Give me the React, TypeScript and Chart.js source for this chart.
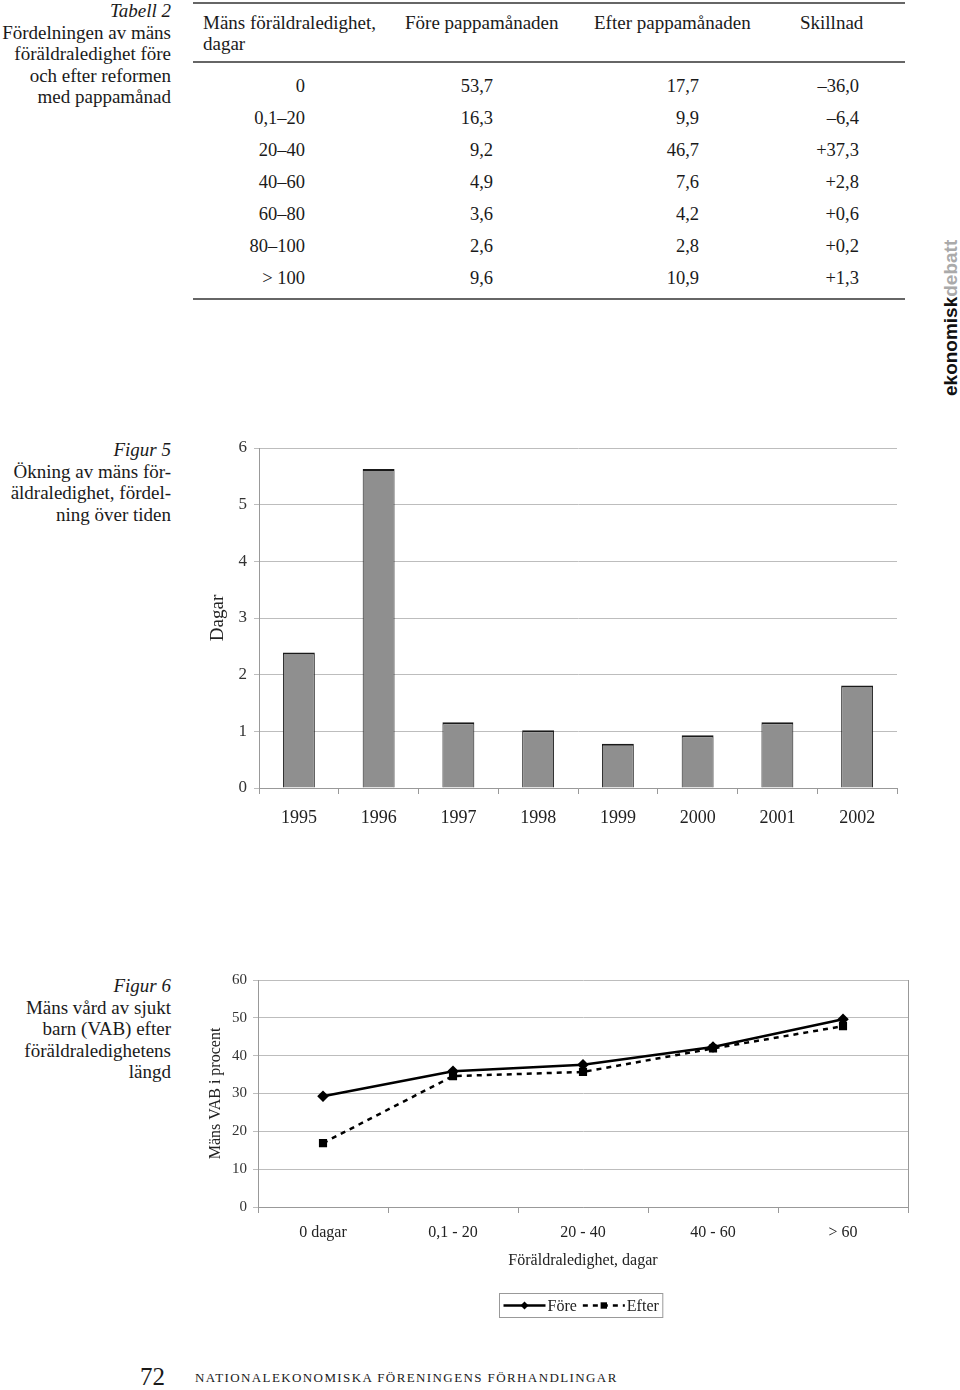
import React, { useEffect, useRef } from "react";
import { Chart, registerables } from "chart.js";

Chart.register(...registerables);

const SERIF = "'Liberation Serif', 'Times New Roman', serif";
const SANS = "'Liberation Sans', Arial, sans-serif";

// ---- Tabell 2 ----
const tableCaption = ["Fördelningen av mäns", "föräldraledighet före", "och efter reformen", "med pappamånad"];
const tableHeaders = ["Mäns föräldraledighet,", "Före pappamånaden", "Efter pappamånaden", "Skillnad"];
const leaveGroups = ["0", "0,1–20", "20–40", "40–60", "60–80", "80–100", "> 100"];
const beforeShares = ["53,7", "16,3", "9,2", "4,9", "3,6", "2,6", "9,6"];
const afterShares = ["17,7", "9,9", "46,7", "7,6", "4,2", "2,8", "10,9"];
const differences = ["–36,0", "–6,4", "+37,3", "+2,8", "+0,6", "+0,2", "+1,3"];

// ---- Figur 5 ----
const fig5Caption = ["Ökning av mäns för-", "äldraledighet, fördel-", "ning över tiden"];
const years = ["1995", "1996", "1997", "1998", "1999", "2000", "2001", "2002"];
const leaveDays = [2.39, 5.63, 1.16, 1.02, 0.78, 0.93, 1.16, 1.81];
const dayTicks = [0, 1, 2, 3, 4, 5, 6];

// ---- Figur 6 ----
const fig6Caption = ["Mäns vård av sjukt", "barn (VAB) efter", "föräldraledighetens", "längd"];
const vabGroups = ["0 dagar", "0,1 - 20", "20 - 40", "40 - 60", "> 60"];
const vabBefore = [29.3, 35.9, 37.6, 42.3, 49.6];
const vabAfter = [16.9, 34.6, 35.7, 41.9, 47.8];
const vabTicks = [0, 10, 20, 30, 40, 50, 60];

const abs = (o: React.CSSProperties): React.CSSProperties => ({ position: "absolute", ...o });

function BarChart() {
  const ref = useRef<HTMLCanvasElement>(null);
  useEffect(() => {
    const chart = new Chart(ref.current!, {
      type: "bar",
      data: {
        labels: years,
        datasets: [
          {
            label: "Dagar",
            data: leaveDays,
            backgroundColor: "#8f8f8f",
            borderColor: "#1a1a1a",
            borderWidth: { top: 2, left: 1, right: 1, bottom: 0 },
            borderSkipped: "start",
            barPercentage: 0.4,
            categoryPercentage: 1,
          },
        ],
      },
      options: {
        animation: false,
        responsive: false,
        maintainAspectRatio: false,
        layout: { padding: { top: 18, right: 13, bottom: 0, left: 0 } },
        plugins: { legend: { display: false }, tooltip: { enabled: false } },
        scales: {
          x: {
            grid: { display: true, drawOnChartArea: false, tickLength: 6, color: "#999", offset: true },
            border: { color: "#999" },
            ticks: { font: { family: SERIF, size: 18 }, color: "#222", padding: 13 },
            afterFit: (s: any) => { s.height = 52; },
          },
          y: {
            min: 0,
            max: 6,
            afterBuildTicks: (s: any) => { s.ticks = dayTicks.map((v) => ({ value: v })); },
            grid: { color: "#bdbdbd", tickLength: 5 },
            border: { color: "#999" },
            ticks: { font: { family: SERIF, size: 17 }, color: "#333", padding: 7 },
            title: { display: true, text: "Dagar", font: { family: SERIF, size: 19 }, color: "#222", padding: { top: 7, bottom: 0 } },
            afterFit: (s: any) => { s.width = 59; },
          },
        },
      },
    });
    return () => chart.destroy();
  }, []);
  return <canvas ref={ref} width={710} height={410} style={{ width: 710, height: 410, display: "block" }} />;
}

const vabExtras = {
  id: "vabExtras",
  afterDraw(chart: any) {
    const { ctx, chartArea } = chart;
    ctx.save();
    ctx.strokeStyle = "#999";
    ctx.lineWidth = 1;
    ctx.beginPath();
    ctx.moveTo(Math.round(chartArea.right) + 0.5, chartArea.top);
    ctx.lineTo(Math.round(chartArea.right) + 0.5, chartArea.bottom + 5);
    ctx.stroke();

    // legend
    ctx.font = `16px ${SERIF}`;
    const ds = chart.data.datasets;
    const pad = 4, sample = 42, gap = 2, between = 6;
    const widths = ds.map((d: any) => ctx.measureText(d.label).width);
    const total = pad * 2 + ds.length * (sample + gap) + widths.reduce((a: number, b: number) => a + b, 0) + between * (ds.length - 1);
    const h = 24;
    const x0 = Math.round((chartArea.left + chartArea.right) / 2 - total / 2) - 1.5;
    const y0 = chart.height - 32 + 0.5;
    ctx.strokeStyle = "#999";
    ctx.lineWidth = 1;
    ctx.strokeRect(x0, y0, total, h);
    let x = x0 + pad;
    const cy = y0 + h / 2;
    ds.forEach((d: any, i: number) => {
      ctx.strokeStyle = d.borderColor;
      ctx.lineWidth = d.borderWidth;
      ctx.setLineDash(d.borderDash || []);
      ctx.beginPath();
      ctx.moveTo(x, cy);
      ctx.lineTo(x + sample, cy);
      ctx.stroke();
      ctx.setLineDash([]);
      const mx = x + sample / 2;
      const r = d.pointRadius;
      ctx.fillStyle = "#000";
      ctx.beginPath();
      if (d.pointStyle === "rectRot") {
        ctx.moveTo(mx, cy - r); ctx.lineTo(mx + r, cy); ctx.lineTo(mx, cy + r); ctx.lineTo(mx - r, cy); ctx.closePath();
      } else {
        ctx.rect(mx - r * 0.8, cy - r * 0.8, r * 1.6, r * 1.6);
      }
      ctx.fill();
      x += sample + gap;
      ctx.fillStyle = "#222";
      ctx.textBaseline = "middle";
      ctx.textAlign = "left";
      ctx.fillText(d.label, x, cy + 1);
      x += widths[i] + between;
    });
    ctx.restore();
  },
};

function LineChart() {
  const ref = useRef<HTMLCanvasElement>(null);
  useEffect(() => {
    const chart = new Chart(ref.current!, {
      type: "line",
      data: {
        labels: vabGroups,
        datasets: [
          {
            label: "Före",
            data: vabBefore,
            borderColor: "#000",
            backgroundColor: "#000",
            borderWidth: 2.5,
            pointStyle: "rectRot",
            pointRadius: 4,
            pointBackgroundColor: "#000",
            pointBorderColor: "#000",
            tension: 0,
          },
          {
            label: "Efter",
            data: vabAfter,
            borderColor: "#000",
            backgroundColor: "#000",
            borderWidth: 2.5,
            borderDash: [5, 5],
            pointStyle: "rect",
            pointRadius: 4,
            pointBackgroundColor: "#000",
            pointBorderColor: "#000",
            tension: 0,
          },
        ],
      },
      options: {
        animation: false,
        responsive: false,
        maintainAspectRatio: false,
        layout: { padding: { top: 14, right: 12, bottom: 55, left: 0 } },
        plugins: { legend: { display: false }, tooltip: { enabled: false } },
        scales: {
          x: {
            offset: true,
            grid: { display: true, drawOnChartArea: false, tickLength: 6, color: "#999", offset: true },
            border: { color: "#999" },
            ticks: { font: { family: SERIF, size: 16 }, color: "#222", padding: 10 },
            title: { display: true, text: "Föräldraledighet, dagar", font: { family: SERIF, size: 16 }, color: "#222", padding: { top: 0, bottom: 0 } },
            afterFit: (s: any) => { s.height = 63; },
          },
          y: {
            min: 0,
            max: 60,
            afterBuildTicks: (s: any) => { s.ticks = vabTicks.map((v) => ({ value: v })); },
            grid: { color: "#bdbdbd", tickLength: 5 },
            border: { color: "#999" },
            ticks: { font: { family: SERIF, size: 15 }, color: "#333", padding: 6 },
            title: { display: true, text: "Mäns VAB i procent", font: { family: SERIF, size: 16 }, color: "#222", padding: { top: 6, bottom: 0 } },
            afterFit: (s: any) => { s.width = 58; },
          },
        },
      },
      plugins: [vabExtras],
    });
    return () => chart.destroy();
  }, []);
  return <canvas ref={ref} width={720} height={360} style={{ width: 720, height: 360, display: "block" }} />;
}

function Caption({ title, lines, top }: { title: string; lines: string[]; top: number }) {
  return (
    <div style={abs({ left: 0, top, width: 171, textAlign: "right", fontFamily: SERIF, fontSize: 19, lineHeight: "21.5px", color: "#1a1a1a" })}>
      <div style={{ fontStyle: "italic" }}>{title}</div>
      {lines.map((l, i) => (
        <div key={i}>{l}</div>
      ))}
    </div>
  );
}

export default function App() {
  const rowTop = 76;
  const rowStep = 32;
  const rightEdges = [305, 493, 699, 859];
  const headerLeft = [203, 405, 594, 800];
  const columns = [leaveGroups, beforeShares, afterShares, differences];
  return (
    <div style={abs({ left: 0, top: 0, width: 960, height: 1390, background: "#fff", overflow: "hidden", fontFamily: SERIF, color: "#1a1a1a" })}>
      <Caption title="Tabell 2" lines={tableCaption} top={0} />

      {/* table rules */}
      <div style={abs({ left: 193, top: 2, width: 712, height: 2, background: "#666" })} />
      <div style={abs({ left: 193, top: 61, width: 712, height: 2, background: "#666" })} />
      <div style={abs({ left: 193, top: 298, width: 712, height: 2, background: "#666" })} />

      {tableHeaders.map((h, i) => (
        <div key={h} style={abs({ left: headerLeft[i], top: 12, fontSize: 19, lineHeight: "21px", whiteSpace: "nowrap" })}>
          {h}
          {i === 0 && <div>dagar</div>}
        </div>
      ))}
      {columns.map((col, c) =>
        col.map((v, r) => (
          <div key={`${c}-${r}`} style={abs({ left: rightEdges[c] - 150, width: 150, top: rowTop + r * rowStep, textAlign: "right", fontSize: 18.5, lineHeight: "20px", whiteSpace: "nowrap" })}>
            {v}
          </div>
        ))
      )}

      {/* vertical brand */}
      <div style={abs({ left: 941, top: 396, transform: "rotate(-90deg)", transformOrigin: "left top", fontFamily: SANS, fontWeight: 700, fontSize: 19, lineHeight: "19px", whiteSpace: "nowrap" })}>
        <span style={{ color: "#111" }}>ekonomisk</span>
        <span style={{ color: "#aaa" }}>debatt</span>
      </div>

      <Caption title="Figur 5" lines={fig5Caption} top={439} />
      <div style={abs({ left: 200, top: 430 })}>
        <BarChart />
      </div>

      <Caption title="Figur 6" lines={fig6Caption} top={975} />
      <div style={abs({ left: 200, top: 965 })}>
        <LineChart />
      </div>

      {/* footer */}
      <div style={abs({ left: 140, top: 1363, fontSize: 25, lineHeight: "28px" })}>72</div>
      <div style={abs({ left: 195, top: 1370, fontSize: 13, lineHeight: "16px", letterSpacing: "1.4px", whiteSpace: "nowrap" })}>
        NATIONALEKONOMISKA FÖRENINGENS FÖRHANDLINGAR
      </div>
    </div>
  );
}
